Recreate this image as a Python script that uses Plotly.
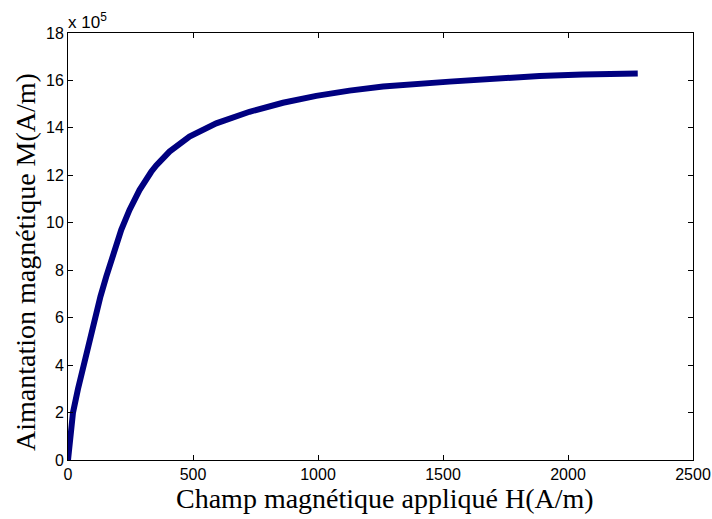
import plotly.graph_objects as go

# Applied field H (A/m) and magnetization M (x 1e5 A/m)
H = [0, 8, 20, 40, 62, 85, 110, 130, 153, 186, 213, 246, 286, 333, 353, 406, 486,
     593, 726, 860, 993, 1126, 1260, 1526, 1700, 1886, 2058, 2279]
M = [0, 1.0, 2.0, 3.0, 4.0, 5.0, 6.0, 6.9, 7.73, 8.85, 9.7, 10.54, 11.38, 12.15, 12.42, 13.0, 13.63,
     14.19, 14.68, 15.06, 15.35, 15.57, 15.74, 15.95, 16.08, 16.19, 16.25, 16.29]

x_ticks = [0, 500, 1000, 1500, 2000, 2500]
y_ticks = [0, 2, 4, 6, 8, 10, 12, 14, 16, 18]

x_title = "Champ magnétique appliqué H(A/m)"
y_title = "Aimantation magnétique M(A/m)"

fig = go.Figure()
fig.add_trace(go.Scatter(
    x=H, y=M, mode="lines",
    line=dict(color="#000080", width=6),
    hoverinfo="skip", showlegend=False,
))

tick_font = dict(family="Liberation Sans, Arial, sans-serif", size=16, color="black")
title_font = dict(family="Liberation Serif, Times New Roman, serif", size=28, color="black")

axis_common = dict(
    showline=True, linecolor="black", linewidth=1, mirror="ticks",
    ticks="inside", ticklen=5, tickwidth=1, tickcolor="black",
    showgrid=False, zeroline=False, tickfont=tick_font, automargin=False,
)

fig.update_layout(
    width=712, height=519,
    margin=dict(l=68, r=19, t=33, b=59),
    paper_bgcolor="white", plot_bgcolor="white",
    xaxis=dict(range=[0, 2500], tickvals=x_ticks, **axis_common),
    yaxis=dict(range=[0, 18], tickvals=y_ticks, **axis_common),
    annotations=[
        dict(text="x 10<sup>5</sup>", xref="paper", yref="paper", x=0, y=1,
             xanchor="left", yanchor="bottom", showarrow=False, yshift=-1, xshift=-2,
             font=dict(family="Liberation Sans, Arial, sans-serif", size=17, color="black")),
        dict(text=x_title, xref="paper", yref="paper", x=0.507, y=-0.0913,
             xanchor="center", yanchor="middle", showarrow=False, font=title_font),
        dict(text=y_title, xref="paper", yref="paper", x=-0.0688, y=0.4637,
             xanchor="center", yanchor="middle", textangle=-90, showarrow=False,
             font=title_font),
    ],
)

fig.write_html("out.html")
